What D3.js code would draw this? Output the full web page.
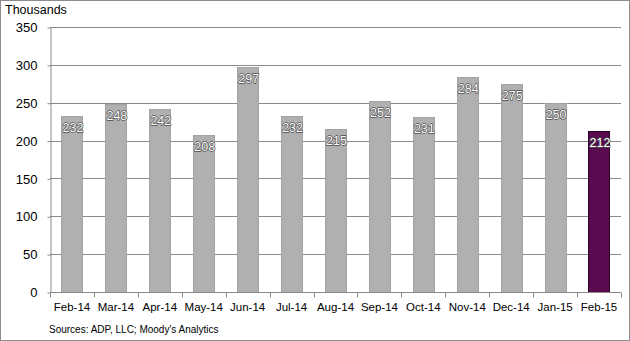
<!DOCTYPE html>
<html>
<head>
<meta charset="utf-8">
<script src="https://cdn.jsdelivr.net/npm/d3@7"></script>
<style>
  body { margin: 0; background: #fff; }
  svg { font-family: Arial, "Liberation Sans", sans-serif; }
</style>
</head>
<body>
<svg id="chart" width="630" height="341"></svg>
<script>
const months = ["Feb-14", "Mar-14", "Apr-14", "May-14", "Jun-14", "Jul-14", "Aug-14",
  "Sep-14", "Oct-14", "Nov-14", "Dec-14", "Jan-15", "Feb-15"];
const jobs = [232, 248, 242, 208, 297, 232, 215, 252, 231, 284, 275, 250, 212];
const yTicks = [0, 50, 100, 150, 200, 250, 300, 350];

const svg = d3.select("#chart");
const W = 630, H = 341;
const m = {top: 27, right: 9, bottom: 49, left: 50};

svg.append("rect")
  .attr("x", 0.5).attr("y", 0.5)
  .attr("width", W - 1).attr("height", H - 1)
  .attr("fill", "#fff").attr("stroke", "#8c8c8c");

const x = d3.scaleBand().domain(months)
  .range([m.left, W - m.right])
  .paddingInner(0.52).paddingOuter(0.26);
const y = d3.scaleLinear().domain([0, 350]).range([H - m.bottom, m.top]);

// gridlines
svg.append("g")
  .selectAll("line")
  .data(yTicks.filter(d => d > 0))
  .enter().append("line")
  .attr("x1", m.left).attr("x2", W - m.right)
  .attr("y1", d => Math.round(y(d)) + 0.5)
  .attr("y2", d => Math.round(y(d)) + 0.5)
  .attr("stroke", "#8a8a8a");

// y axis
const yAxis = svg.append("g")
  .attr("transform", `translate(${m.left + 0.5},0.5)`)
  .call(d3.axisLeft(y).tickValues(yTicks).tickSize(3).tickPadding(10).tickSizeOuter(0));
yAxis.select(".domain").attr("stroke", "#8a8a8a");
yAxis.selectAll(".tick line").attr("stroke", "#8a8a8a");
yAxis.selectAll("text").attr("font-size", 13).attr("fill", "#000")
  .attr("font-family", "Arial, 'Liberation Sans', sans-serif");

// bars
svg.append("g")
  .selectAll("rect")
  .data(jobs)
  .enter().append("rect")
  .attr("x", (d, i) => Math.round(x(months[i])) + 0.5)
  .attr("y", d => Math.round(y(d)) + 0.5)
  .attr("width", Math.round(x.bandwidth()))
  .attr("height", d => Math.round(y(0)) - Math.round(y(d)))
  .attr("fill", (d, i) => i === jobs.length - 1 ? "#5a0b50" : "#b0b0b0")
  .attr("stroke", (d, i) => i === jobs.length - 1 ? "#2a0326" : "#a2a2a2");

// x axis
const step = x.step();
const xAxis = svg.append("g")
  .attr("transform", `translate(0,${Math.round(y(0)) + 0.5})`);
xAxis.append("line")
  .attr("x1", m.left).attr("x2", W - m.right)
  .attr("stroke", "#8a8a8a");
xAxis.selectAll("line.tick")
  .data(d3.range(months.length + 1))
  .enter().append("line")
  .attr("class", "tick")
  .attr("x1", i => Math.round(m.left + i * step) + 0.5)
  .attr("x2", i => Math.round(m.left + i * step) + 0.5)
  .attr("y1", 0).attr("y2", 5)
  .attr("stroke", "#8a8a8a");
xAxis.selectAll("text")
  .data(months)
  .enter().append("text")
  .attr("x", d => x(d) + x.bandwidth() / 2)
  .attr("y", 18)
  .attr("text-anchor", "middle")
  .attr("font-size", 11.5)
  .text(d => d);

// value labels
svg.append("g")
  .selectAll("text")
  .data(jobs)
  .enter().append("text")
  .attr("x", (d, i) => x(months[i]) + x.bandwidth() / 2 + 1)
  .attr("y", d => y(d) + 16)
  .attr("text-anchor", "middle")
  .attr("font-size", 12.5)
  .attr("fill", "#fff")
  .attr("stroke", "#4a4a4a")
  .attr("stroke-width", 1.3)
  .attr("paint-order", "stroke")
  .attr("stroke-linejoin", "round")
  .text(d => d);

svg.append("text")
  .attr("x", 5).attr("y", 14)
  .attr("font-size", 12.5)
  .text("Thousands");

svg.append("text")
  .attr("x", 49).attr("y", 333)
  .attr("font-size", 10)
  .text("Sources: ADP, LLC; Moody's Analytics");
</script>
</body>
</html>
